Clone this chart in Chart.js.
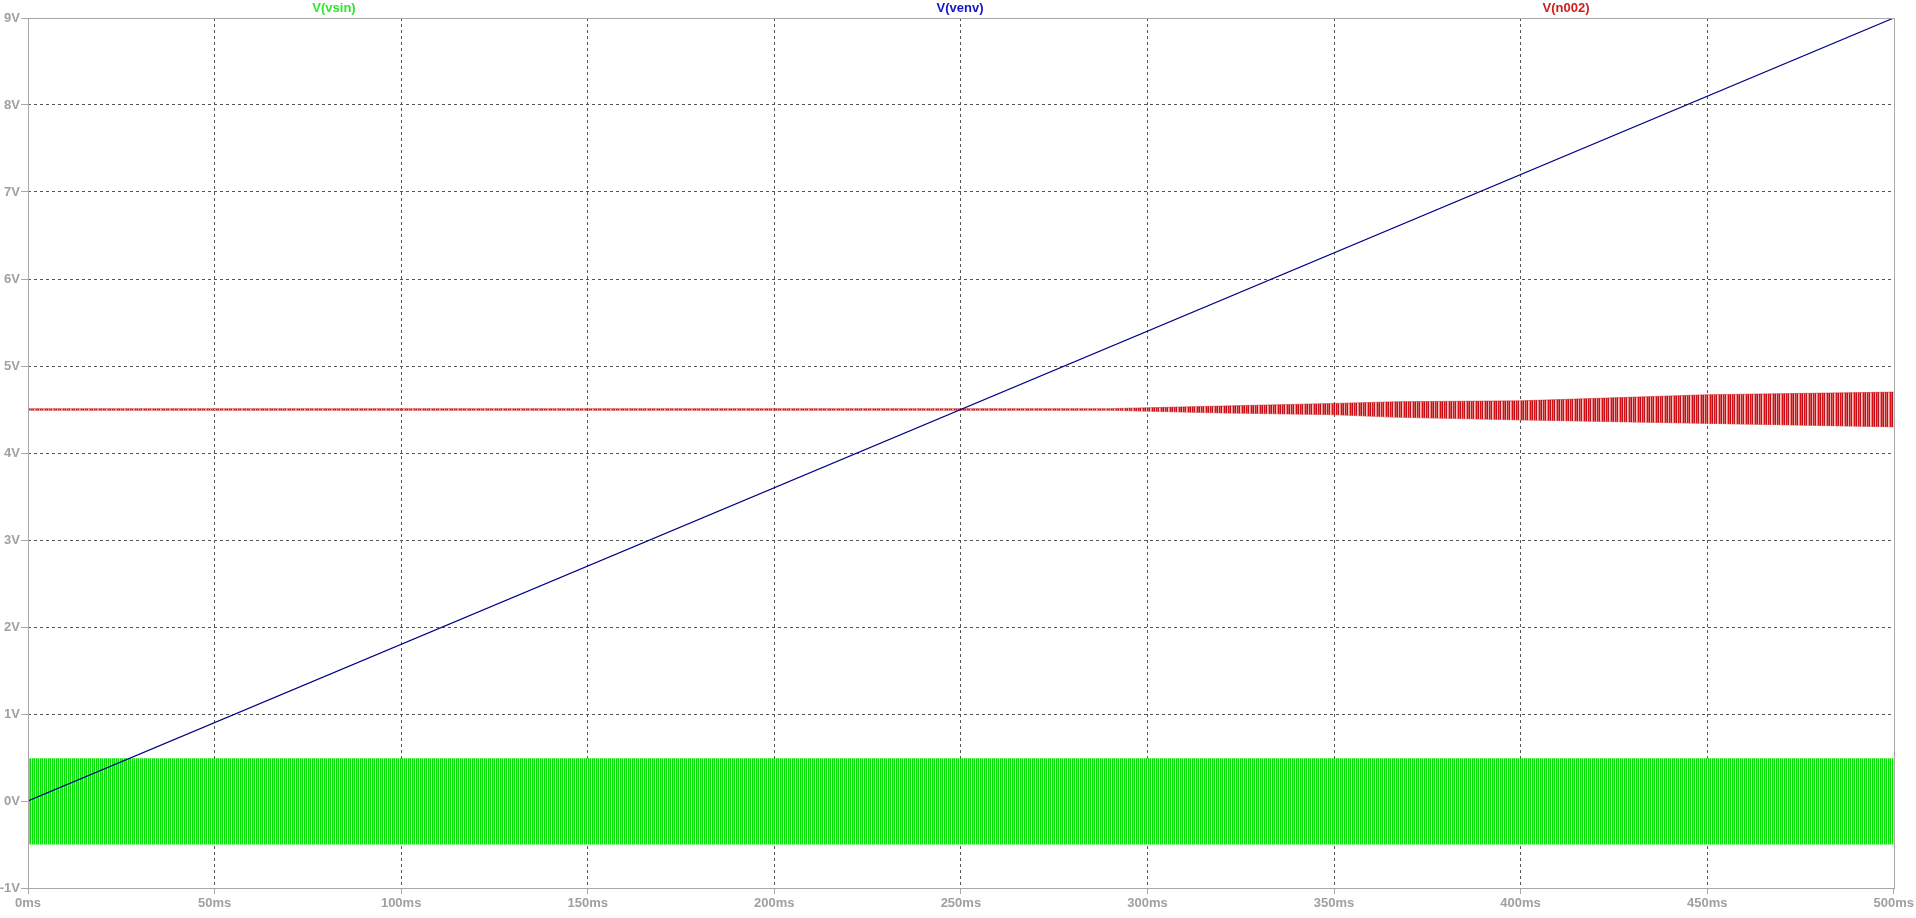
<!DOCTYPE html>
<html>
<head>
<meta charset="utf-8">
<script src="https://cdn.jsdelivr.net/npm/chart.js@4.4.1/dist/chart.umd.min.js"></script>
<style>
  html, body { margin: 0; padding: 0; background: #fff; }
  #wrap { width: 1916px; height: 918px; }
</style>
</head>
<body>
<div id="wrap"><canvas id="scope"></canvas></div>
<script>
// axis ticks
let time_ticks = [0, 50, 100, 150, 200, 250, 300, 350, 400, 450, 500],
    volt_ticks = [-1, 0, 1, 2, 3, 4, 5, 6, 7, 8, 9];

// V(venv) - straight ramp
let venv_t = [0, 500],
    venv_v = [0, 9];

// V(vsin) - dense carrier, kept as its upper / lower envelope
let vsin_t = [0, 500],
    vsin_hi = [0.49, 0.49],
    vsin_lo = [-0.5, -0.5];

// V(n002) - envelope of the output, sits at 4.5V and opens up after ~300ms
let n002_t = [0, 290, 300, 320, 350, 367, 400, 450, 500],
    n002_hi = [4.51, 4.51, 4.52, 4.54, 4.57, 4.59, 4.60, 4.67, 4.70],
    n002_lo = [4.49, 4.49, 4.48, 4.46, 4.44, 4.41, 4.38, 4.34, 4.30];

// trace labels across the top
let trace_names = ["V(vsin)", "V(venv)", "V(n002)"],
    trace_label_x = [334, 960, 1566],
    trace_label_colors = ["#2ee82e", "#1414c8", "#d01c1c"];

function pts(t, v) {
    return t.map(function (x, i) { return { x: x, y: v[i] }; });
}

// vertical stripe texture so the filled band looks like a packed waveform
function stripes(colors) {
    var c = document.createElement("canvas");
    c.width = colors.length; c.height = 1;
    var g = c.getContext("2d");
    for (var i = 0; i < colors.length; i++) {
        g.fillStyle = colors[i];
        g.fillRect(i, 0, 1, 1);
    }
    return g.createPattern(c, "repeat");
}

var greenFill = stripes(["#00e400", "#6ae46a", "#12d412", "#b0f0b0"]);
var redFill = stripes(["#e00a0a", "#d85a5a", "#a81424", "#eeb0b0", "#e20c0c", "#dc6464", "#ac1626", "#f2c0c0", "#e88a8a"]);

var labelFont = "bold 13px 'Liberation Sans', Arial, sans-serif";

var framePlugin = {
    id: "frame",
    afterDatasetsDraw: function (chart) {
        var a = chart.chartArea, ctx = chart.ctx;
        ctx.save();
        ctx.strokeStyle = "#a8a8a8";
        ctx.lineWidth = 1;
        ctx.strokeRect(Math.round(a.left) + 0.5, Math.round(a.top) + 0.5,
            Math.round(a.right - a.left), Math.round(a.bottom - a.top));
        ctx.font = labelFont;
        ctx.textAlign = "center";
        ctx.textBaseline = "middle";
        for (var i = 0; i < trace_names.length; i++) {
            ctx.fillStyle = trace_label_colors[i];
            ctx.fillText(trace_names[i], trace_label_x[i], 8);
        }
        ctx.restore();
    }
};

var edgeClear = function (lo, hi) {
    return function (c) {
        var v = c.tick ? c.tick.value : null;
        return (v === lo || v === hi) ? "rgba(0,0,0,0)" : "#555555";
    };
};

new Chart(document.getElementById("scope"), {
    type: "line",
    data: {
        datasets: [
            {
                label: "V(venv)",
                data: pts(venv_t, venv_v),
                borderColor: "#000088",
                borderWidth: 1.2,
                pointRadius: 0,
                fill: false
            },
            {
                label: "V(n002) hi",
                data: pts(n002_t, n002_hi),
                borderColor: "rgba(200,16,16,0.6)",
                borderWidth: 0.8,
                pointRadius: 0,
                backgroundColor: redFill,
                fill: "+1"
            },
            {
                label: "V(n002) lo",
                data: pts(n002_t, n002_lo),
                borderColor: "rgba(200,16,16,0.6)",
                borderWidth: 0.8,
                pointRadius: 0,
                fill: false
            },
            {
                label: "V(vsin) hi",
                data: pts(vsin_t, vsin_hi),
                borderColor: "rgba(0,0,0,0)",
                borderWidth: 0,
                pointRadius: 0,
                backgroundColor: greenFill,
                fill: "+1"
            },
            {
                label: "V(vsin) lo",
                data: pts(vsin_t, vsin_lo),
                borderColor: "rgba(0,0,0,0)",
                borderWidth: 0,
                pointRadius: 0,
                fill: false
            }
        ]
    },
    options: {
        responsive: true,
        maintainAspectRatio: false,
        animation: false,
        events: [],
        layout: { padding: { left: 0, right: 20, top: 18, bottom: 0 } },
        plugins: {
            legend: { display: false },
            tooltip: { enabled: false }
        },
        scales: {
            x: {
                type: "linear",
                min: time_ticks[0],
                max: time_ticks[time_ticks.length - 1],
                afterBuildTicks: function (s) { s.ticks = time_ticks.map(function (v) { return { value: v }; }); },
                afterFit: function (s) { s.height = 30; },
                ticks: {
                    color: "#a0a0a0",
                    font: { family: "'Liberation Sans', Arial, sans-serif", size: 13, weight: "bold" },
                    padding: 2,
                    maxRotation: 0,
                    autoSkip: false,
                    callback: function (v) { return v + "ms"; }
                },
                grid: {
                    color: edgeClear(0, 500),
                    lineWidth: 1,
                    tickLength: 6,
                    tickColor: "#a8a8a8",
                    tickBorderDash: []
                },
                border: { display: false, dash: [3, 3] }
            },
            y: {
                type: "linear",
                min: volt_ticks[0],
                max: volt_ticks[volt_ticks.length - 1],
                afterBuildTicks: function (s) { s.ticks = volt_ticks.map(function (v) { return { value: v }; }); },
                afterFit: function (s) { s.width = 28; },
                ticks: {
                    color: "#a0a0a0",
                    font: { family: "'Liberation Sans', Arial, sans-serif", size: 13, weight: "bold" },
                    padding: 1,
                    autoSkip: false,
                    callback: function (v) { return v + "V"; }
                },
                grid: {
                    color: edgeClear(-1, 9),
                    lineWidth: 1,
                    tickLength: 7,
                    tickColor: "#a8a8a8",
                    tickBorderDash: []
                },
                border: { display: false, dash: [3, 3] }
            }
        }
    },
    plugins: [framePlugin]
});
</script>
</body>
</html>
